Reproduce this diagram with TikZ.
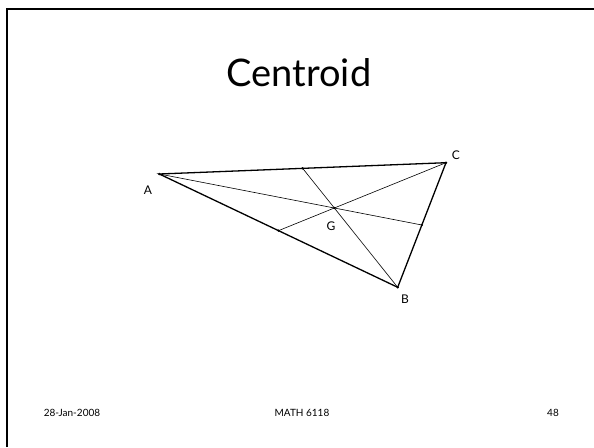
\documentclass[tikz,border=0pt]{standalone}
\usepackage{fontspec}
\setmainfont{Lato}
\usetikzlibrary{calc}

\begin{document}
\begin{tikzpicture}[x=1pt, y=-1pt,
  side/.style={draw=black, line width=1.3pt},
  median/.style={draw=black, line width=0.6pt},
  dot/.style={circle, fill=black, inner sep=0pt, minimum size=2.6pt},
  lbl/.style={font=\fontsize{12}{14}\selectfont, inner sep=0pt},
  foot/.style={font=\fontsize{10}{12}\selectfont, inner sep=0pt}
]
\useasboundingbox (0,0) rectangle (594,447);
\fill[white] (0,0) rectangle (594,447);
% slide frame
\draw[line width=2pt] (7,447) -- (7,9) -- (594,9);
\node[font=\fontsize{38}{44}\selectfont] (title) at (299,73) {Centroid};
% triangle and medians
\coordinate (A) at (159.3,174);
\coordinate (B) at (397.7,287.3);
\coordinate (C) at (446,162.7);
\coordinate (Mab) at ($(A)!0.5!(B)$);
\coordinate (Mbc) at ($(B)!0.5!(C)$);
\coordinate (Mca) at ($(C)!0.5!(A)$);
\coordinate (G) at ($(A)!2/3!(Mbc)$);
\draw[median] (A) -- (Mbc);
\draw[median] (B) -- (Mca);
\draw[median] (C) -- (Mab);
\draw[side] (A) -- (B) -- (C) -- cycle;
\foreach \p in {A,B,C,G,Mab,Mbc,Mca} \node[dot] at (\p) {};
\node[lbl] (la) at (148,190) {A};
\node[lbl] (lb) at (405,299) {B};
\node[lbl] (lc) at (456,155) {C};
\node[lbl] (lg) at (331,226) {G};
% footer
\node[foot] (date) at (72,413) {28-Jan-2008};
\node[foot] (course) at (302,413) {MATH 6118};
\node[foot] (page) at (553,413) {48};
\end{tikzpicture}
\end{document}
